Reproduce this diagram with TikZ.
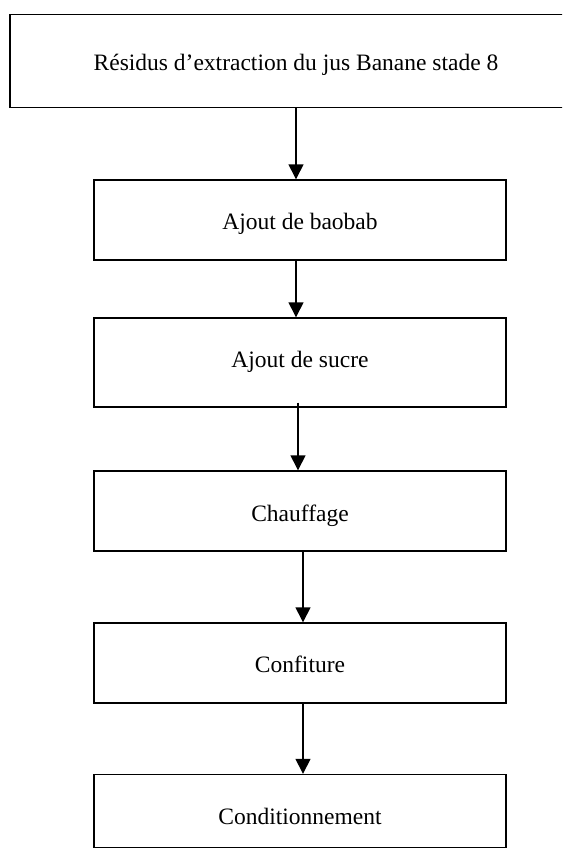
\documentclass[tikz,border=0pt]{standalone}
\usepackage{fontspec}
\setmainfont{Liberation Serif}
\usetikzlibrary{arrows.meta}
\begin{document}
\begin{tikzpicture}[x=1pt,y=-1pt,
  box/.style={draw, line width=1.4pt, minimum width=412pt, inner sep=0pt,
    text height=20pt, text depth=1pt,
    font=\fontsize{23.5}{28}\selectfont},
  arr/.style={line width=1.4pt, -{Triangle[width=15pt,length=15pt]}}]
\useasboundingbox (0,0) rectangle (562,848);
\clip (0,0) rectangle (562,848);
\fill[white] (0,0) rectangle (562,848);
\node[box, minimum width=572pt, minimum height=93pt] (b1) at (296,61) {Résidus d’extraction du jus Banane stade 8};
\node[box, minimum height=80pt] (b2) at (300,220) {Ajout de baobab};
\node[box, minimum height=89pt, text height=11pt] (b3) at (300,362.5) {Ajout de sucre};
\node[box, minimum height=80pt, text height=21pt] (b4) at (300,511) {Chauffage};
\node[box, minimum height=80pt] (b5) at (300,663) {Confiture};
\node[box, minimum height=73pt, text height=28pt] (b6) at (300,811) {Conditionnement};
\coordinate (xa) at (296,0);
\coordinate (xb) at (298,0);
\coordinate (xc) at (303,0);
\draw[arr] (b1.south -| xa) -- (b2.north -| xa);
\draw[arr] (b2.south -| xa) -- (b3.north -| xa);
\draw[arr] ([yshift=5pt]b3.south -| xb) -- (b4.north -| xb);
\draw[arr] (b4.south -| xc) -- (b5.north -| xc);
\draw[arr] (b5.south -| xc) -- (b6.north -| xc);
\end{tikzpicture}
\end{document}
